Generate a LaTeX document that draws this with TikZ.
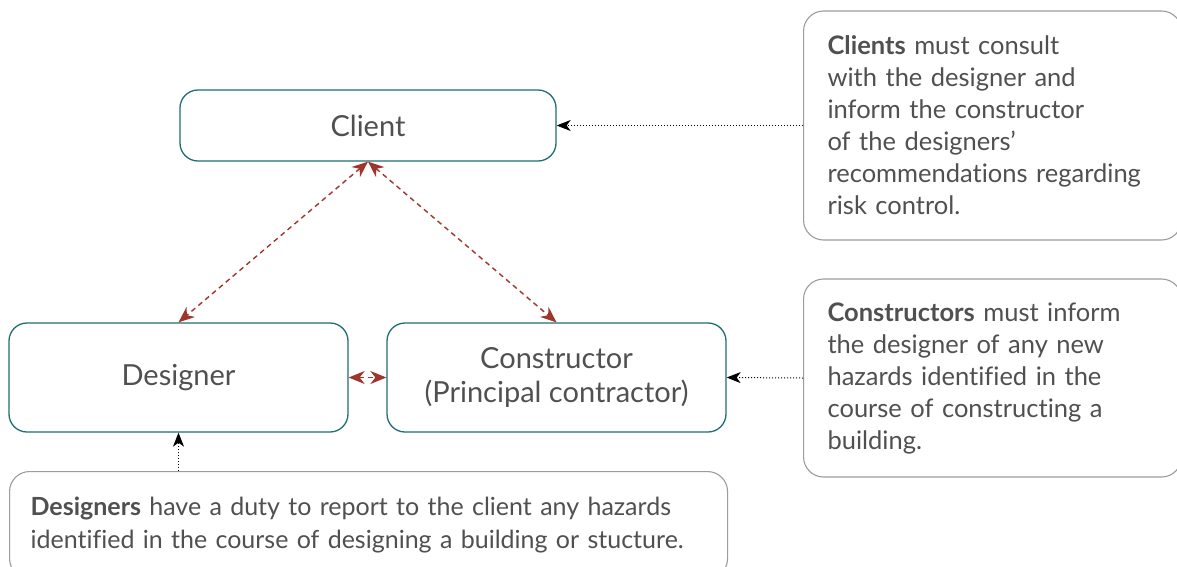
\documentclass[tikz,border=0pt]{standalone}
\usepackage{fontspec}
\setmainfont{Lato}[Ligatures=NoCommon]
\usepackage{tikz}
\usetikzlibrary{arrows.meta}
\definecolor{boxteal}{HTML}{1F6E72}
\definecolor{notegray}{HTML}{9C9C9C}
\definecolor{txtgray}{HTML}{505050}
\definecolor{linkred}{HTML}{A0362B}
\tikzstyle{party} = [draw=boxteal,line width=1.3pt,rounded corners=18pt,text=txtgray,align=center,font=\fontsize{29pt}{34pt}\selectfont]
\tikzstyle{note} = [draw=notegray,line width=1.1pt,rounded corners=20pt,text=txtgray,align=left,font=\fontsize{25.5pt}{32pt}\selectfont]
\tikzstyle{duty} = [-{Stealth[length=14pt,width=11pt,inset=4pt]},dotted,line width=1pt]
\tikzstyle{link} = [{Stealth[length=16pt,width=13pt,inset=5pt]}-{Stealth[length=16pt,width=13pt,inset=5pt]},linkred,line width=1.4pt,dash pattern=on 5pt off 4pt]

\begin{document}
\begin{tikzpicture}[yscale=-1,x=1pt,y=1pt]
			\useasboundingbox[fill=white] (0,0) rectangle (1177,566);
			\node[party,minimum width=376pt,minimum height=71pt] (client) at (368,125.5) {Client};
			\node[party,minimum width=339pt,minimum height=109pt] (designer) at (178.5,377.5) {Designer};
			\node[party,minimum width=339pt,minimum height=109pt] (constructor) at (556.5,377.5) {Constructor\\(Principal contractor)};
			\node[note,anchor=west,text width=330pt,inner xsep=24pt,minimum height=229pt] (noteclient) at (803,125.5)
				{\textbf{Clients} must consult\\with the designer and\\inform the constructor\\of the designers'\\recommendations regarding\\risk control.};
			\node[note,anchor=west,text width=330pt,inner xsep=24pt,minimum height=198pt] (noteconstructor) at (803,378)
				{\textbf{Constructors} must inform\\the designer of any new\\hazards identified in the\\course of constructing a\\building.};
			\node[note,anchor=north west,text width=676pt,inner xsep=21pt,minimum height=107pt,font=\fontsize{25pt}{33pt}\selectfont] (notedesigner) at (9,471)
				{\textbf{Designers} have a duty to report to the client any hazards\\identified in the course of designing a building or stucture.};
			\draw[duty] (noteclient.west) -- (client.east);
			\draw[duty] (noteconstructor.west) -- (constructor.east);
			\draw[duty] (designer.south |- notedesigner.north) -- (designer.south);
			\draw[link] (client.south) -- (designer.north);
			\draw[link] (client.south) -- (constructor.north);
			\draw[link] (designer.east) -- (constructor.west);
		\end{tikzpicture}
\end{document}
